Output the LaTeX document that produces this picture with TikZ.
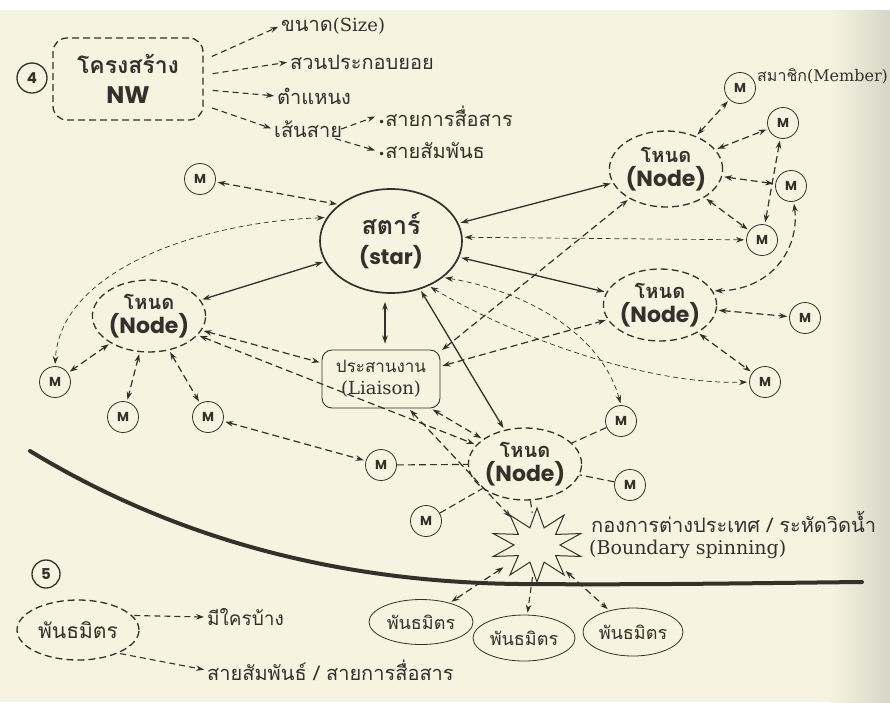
\documentclass[tikz,border=0pt]{standalone}
\usepackage{fontspec}
\usetikzlibrary{arrows.meta,shapes.geometric,calc}
\newfontfamily\thai[Script=Thai]{Loma}
\newfontfamily\geo{Poppins}
\newfontfamily\seriffont{DejaVu Serif}
\newcommand{\tsz}[1]{\fontsize{#1}{#1}\selectfont}
\definecolor{ink}{RGB}{52,48,42}
\definecolor{paper}{RGB}{246,244,224}
\definecolor{paperdark}{RGB}{214,214,200}

\tikzset{
  mem/.style={circle, draw=ink, line width=0.8pt, minimum size=31pt, inner sep=0pt,
    text=ink, font=\geo\bfseries\tsz{13}},
  numc/.style={circle, draw=ink, line width=1.3pt, minimum size=30pt, inner sep=0pt,
    text=ink, font=\geo\bfseries\tsz{15}},
  hub/.style={ellipse, draw=ink, line width=1.3pt, dash pattern=on 7pt off 4pt,
    inner sep=0pt, align=center, text=ink, font=\bfseries\fontsize{20}{24}\selectfont},
  starhub/.style={ellipse, draw=ink, line width=1.7pt, inner sep=0pt, align=center,
    text=ink, font=\bfseries\fontsize{24}{30}\selectfont},
  nwbox/.style={rectangle, rounded corners=14pt, draw=ink, line width=1.3pt,
    dash pattern=on 7pt off 4pt, inner sep=0pt, align=center, text=ink,
    font=\bfseries\fontsize{23}{30}\selectfont},
  liabox/.style={rectangle, rounded corners=10pt, draw=ink, line width=0.9pt,
    inner sep=0pt, align=center, text=ink, font=\fontsize{17}{22}\selectfont},
  partner/.style={ellipse, draw=ink, line width=0.8pt, inner sep=0pt, text=ink,
    font=\thai\tsz{18}},
  lab/.style={inner sep=1pt, anchor=west, text=ink, font=\tsz{20}},
  burstline/.style={draw=ink, line width=1pt, fill=paper, line join=miter},
  sarr/.style={<->, draw=ink, line width=1.3pt, shorten <=2pt, shorten >=2pt},
  darr/.style={<->, draw=ink, line width=1.2pt, dash pattern=on 7pt off 4pt,
    shorten <=2pt, shorten >=2pt},
  tarr/.style={<->, draw=ink, line width=0.7pt, dash pattern=on 5pt off 3.5pt,
    shorten <=2pt, shorten >=2pt},
  dline/.style={draw=ink, line width=1.1pt, dash pattern=on 7pt off 4pt},
  dsingle/.style={->, draw=ink, line width=1.1pt, dash pattern=on 6pt off 4pt,
    shorten >=2pt},
  larr/.style={->, draw=ink, line width=1.1pt, dash pattern=on 6pt off 4pt,
    shorten >=2pt},
}

\begin{document}
\begin{tikzpicture}[x=1pt, y=-1pt, >={Stealth[length=8pt,width=5.5pt]}]
\useasboundingbox (0,0) rectangle (890,702);
% paper
\fill[paper] (0,0) rectangle (890,702);
\shade[left color=paper, right color=paperdark] (830,0) rectangle (890,702);
\fill[white] (0,0) rectangle (890,10);

% organisation boundary
\draw[ink, line width=4pt, line cap=round]
  (30,451) .. controls (160,530) and (320,582) .. (520,584)
  .. controls (650,585) and (760,583) .. (862,582);

% ---- part 4: network structure
\node[numc] (n4) at (32,78) {4};
\node[nwbox, minimum width=150pt, minimum height=82pt] (nw) at (128,79)
  {{\thai\bfseries โครงสร้าง}\\{\geo\bfseries\tsz{24}NW}};

\node[lab] (lsize) at (280,26) {{\thai ขนาด}{\seriffont\tsz{18}(Size)}};
\node[lab] (lsub) at (289,62) {\thai สวนประกอบยอย};
\node[lab] (lpos) at (276,96) {\thai ตำแหนง};
\node[lab] (lline) at (273,129) {\thai เส้นสาย};
\node[lab] (lcomm) at (377,116) {{\seriffont\tsz{12}•}{\thai สายการสื่อสาร}};
\node[lab] (lrel) at (377,151) {{\seriffont\tsz{12}•}{\thai สายสัมพันธ}};

\draw[larr, shorten <=9pt] (nw.14) -- (lsize.west);
\draw[larr, shorten <=9pt] (nw.3) -- (lsub.west);
\draw[larr, shorten <=9pt] (nw.-8) -- (lpos.west);
\draw[larr, shorten <=9pt] (nw.-19) -- (lline.west);
\draw[larr] ([xshift=-2pt]lline.east) -- (lcomm.west);
\draw[larr] ([xshift=-8pt]lline.south east) -- (lrel.west);

% ---- hubs
\node[starhub, minimum width=142pt, minimum height=104pt] (star) at (391,241)
  {{\thai\bfseries\tsz{25}สตาร์}\\{\geo\bfseries\tsz{21}(star)}};
\node[liabox, minimum width=118pt, minimum height=58pt] (lia) at (381,379)
  {{\thai ประสานงาน}\\{\seriffont\tsz{18}(Liaison)}};
\node[hub, minimum width=108pt, minimum height=72pt] (nodeL) at (149,316)
  {{\thai\bfseries โหนด}\\{\geo\bfseries\tsz{22}(Node)}};
\node[hub, minimum width=112pt, minimum height=76pt] (nodeTR) at (666,169)
  {{\thai\bfseries โหนด}\\{\geo\bfseries\tsz{22}(Node)}};
\node[hub, minimum width=110pt, minimum height=72pt] (nodeMR) at (660,305)
  {{\thai\bfseries โหนด}\\{\geo\bfseries\tsz{22}(Node)}};
\node[hub, minimum width=110pt, minimum height=72pt] (nodeB) at (525,464)
  {{\thai\bfseries โหนด}\\{\geo\bfseries\tsz{22}(Node)}};
% boundary spanner: an invisible ellipse carries the connectors
\node[ellipse, minimum width=84pt, minimum height=64pt, inner sep=0pt] (sb) at (537,545) {};
\draw[burstline] ($(sb)+(0,-37)$)
  \foreach \a in {108,144,...,432} {
    -- ($(sb)+({23*cos(\a)},{-18*sin(\a)})$)
    -- ($(sb)+({46*cos(\a+18)},{-37*sin(\a+18)})$) } -- cycle;

% ---- members
\node[mem] (mA) at (200,179) {M};
\node[mem] (mB) at (55,382) {M};
\node[mem] (mC) at (123,417) {M};
\node[mem] (mD) at (208,417) {M};
\node[mem] (mE) at (381,465) {M};
\node[mem] (mF) at (426,521) {M};
\node[mem] (mG) at (630,485) {M};
\node[mem] (mH) at (621,421) {M};
\node[mem] (mI) at (765,382) {M};
\node[mem] (mJ) at (805,318) {M};
\node[mem] (mK) at (762,240) {M};
\node[mem] (mL) at (791,186) {M};
\node[mem] (mM) at (783,123) {M};
\node[mem] (mN) at (740,88) {M};
\node[lab, font=\tsz{16}] (lmem) at (756,76) {{\thai สมาชิก}{\seriffont (Member)}};

% ---- partners outside the boundary
\node[partner, minimum width=104pt, minimum height=45pt] (pa) at (421,622) {พันธมิตร};
\node[partner, minimum width=102pt, minimum height=46pt] (pb) at (524,638) {พันธมิตร};
\node[partner, minimum width=100pt, minimum height=48pt] (pc) at (633,632) {พันธมิตร};
\node[lab, font=\thai\tsz{20}] (lbnd) at (590,522) {กองการต่างประเทศ / ระหัดวิดน้ำ};
\node[lab, font=\seriffont\tsz{19}] (lspin) at (588,549) {(Boundary spinning)};

% ---- part 5: partners
\node[numc, minimum size=28pt] (n5) at (46,574) {5};
\node[hub, font=\thai\tsz{21}, minimum width=122pt, minimum height=60pt] (pL) at (78,630) {พันธมิตร};
\node[lab, font=\thai\tsz{19}] (lwho) at (206,617) {มีใครบ้าง};
\node[lab, font=\thai\tsz{20}] (lties) at (206,670) {สายสัมพันธ์ / สายการสื่อสาร};
\draw[larr, shorten <=2pt] (pL.15) -- (lwho.west);
\draw[larr, shorten <=2pt] (pL.-30) -- (lties.west);

% ---- solid links to the star
\draw[sarr] (star) -- (nodeL);
\draw[sarr] (star) -- (nodeTR);
\draw[sarr] (star) -- (nodeMR);
\draw[sarr] (star) -- (nodeB);
\draw[sarr, shorten <=6pt, shorten >=8pt] ([xshift=4pt]lia.north) -- ([xshift=4pt]lia.north |- star.south);

% ---- dashed two-way links
\draw[darr] (mA) -- (star.145);
\draw[darr] (nodeL) -- (mB);
\draw[darr] (nodeL) -- (mC);
\draw[darr] (nodeL) -- (mD);
\draw[darr] (nodeL) -- (lia);
\draw[darr] (nodeL) -- (nodeB);
\draw[darr] (mD) -- (mE);
\draw[darr] (lia) -- (nodeB);
\draw[darr] (lia) -- (sb);
\draw[darr] (lia.25) -- (nodeTR);
\draw[darr] (lia.12) -- (nodeMR);
\draw[darr] (nodeTR) -- (mN);
\draw[darr] (nodeTR) -- (mM);
\draw[darr] (nodeTR) -- (mL);
\draw[darr] (nodeTR) -- (mK);
\draw[darr] (mM) -- (mK);
\draw[darr] (mL.-80) .. controls (800,250) and (770,290) .. (nodeMR.15);
\draw[darr] (nodeMR) -- (mJ);
\draw[darr] (nodeMR) -- (mI);
\draw[darr] (sb) -- (pa);
\draw[darr] (sb) -- (pc);
\draw[dsingle] (sb) -- (pb);

% ---- thin long links from the star
\draw[tarr] (star.160) .. controls (200,222) and (60,270) .. (mB.north);
\draw[tarr] (star.3) -- (mK);
\draw[tarr] (star.-35) .. controls (520,290) and (600,330) .. (mH.north);
\draw[tarr] (star.-50) .. controls (520,340) and (650,385) .. (mI.west);

% ---- plain ties around the lower node
\draw[dline] (mE) -- (nodeB);
\draw[dline] (mF) -- (nodeB);
\draw[dline] (mG) -- (nodeB);
\draw[dline] (mH) -- (nodeB);
\draw[dline] (nodeB) -- (sb);
\end{tikzpicture}
\end{document}
